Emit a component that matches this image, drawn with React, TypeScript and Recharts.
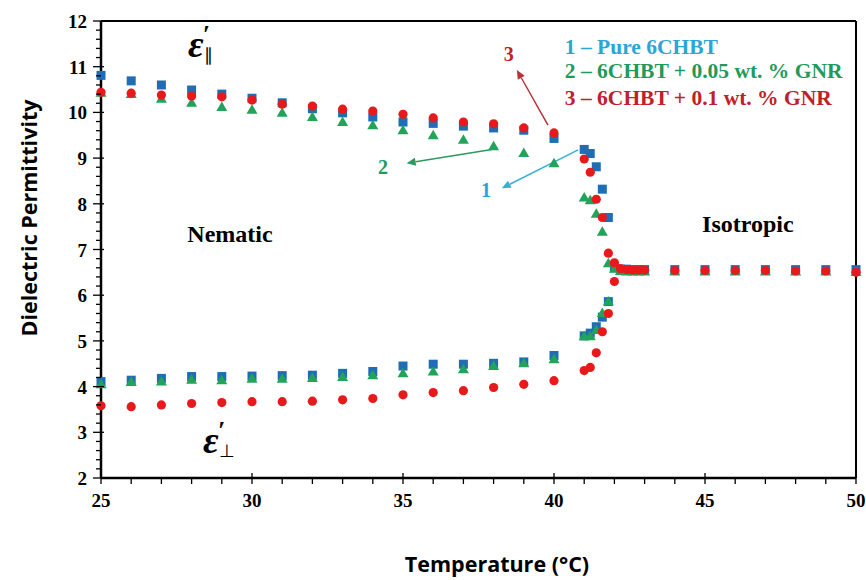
import * as React from 'react';
import { ScatterChart, Scatter, XAxis, YAxis, ReferenceLine, ReferenceDot, Label } from 'recharts';

// nematic phase, 25..40 °C
const nematicTemps = [25, 26, 27, 28, 29, 30, 31, 32, 33, 34, 35, 36, 37, 38, 39, 40];
const pureParallel = [10.81, 10.69, 10.6, 10.49, 10.4, 10.31, 10.21, 10.08, 9.99, 9.9, 9.79, 9.76, 9.7, 9.66, 9.61, 9.43];
const pureNormal = [4.11, 4.14, 4.18, 4.22, 4.22, 4.23, 4.24, 4.25, 4.29, 4.33, 4.45, 4.49, 4.49, 4.51, 4.54, 4.68];
const gnr005Parallel = [10.43, 10.4, 10.3, 10.21, 10.12, 10.06, 9.99, 9.9, 9.79, 9.72, 9.61, 9.5, 9.4, 9.26, 9.11, 8.89];
const gnr005Normal = [4.05, 4.1, 4.11, 4.15, 4.14, 4.17, 4.17, 4.19, 4.21, 4.25, 4.29, 4.33, 4.38, 4.45, 4.51, 4.6];
const gnr01Parallel = [10.44, 10.42, 10.38, 10.36, 10.34, 10.27, 10.18, 10.14, 10.07, 10.03, 9.96, 9.88, 9.79, 9.75, 9.66, 9.55];
const gnr01Normal = [3.58, 3.56, 3.6, 3.63, 3.65, 3.67, 3.67, 3.68, 3.71, 3.74, 3.82, 3.87, 3.91, 3.98, 4.05, 4.13];

// transition region
const transitionTemps = [41.0, 41.2, 41.4, 41.6, 41.8, 42.0];
const pureTransParallel = [9.19, 9.1, 8.81, 8.32, 7.7, 6.6];
const pureTransNormal = [5.11, 5.17, 5.31, 5.52, 5.86];
const gnr005TransParallel = [8.14, 8.08, 7.78, 7.39, 6.7, 6.58];
const gnr005TransNormal = [5.1, 5.1, 5.24, 5.61, 5.86];
const gnr01TransParallel = [8.98, 8.69, 8.1, 7.7, 6.92, 6.71];
const gnr01TransNormal = [4.35, 4.42, 4.74, 5.2, 5.6, 6.3];

// isotropic phase
const isoTemps = [42.2, 42.4, 42.6, 42.8, 43.0, 44, 45, 46, 47, 48, 49, 50];
const pureIso = [6.57, 6.57, 6.56, 6.56, 6.56, 6.56, 6.56, 6.56, 6.56, 6.56, 6.56, 6.56];
const gnr005Iso = [6.53, 6.52, 6.52, 6.52, 6.52, 6.52, 6.52, 6.52, 6.52, 6.52, 6.52, 6.51];
const gnr01Iso = [6.58, 6.56, 6.55, 6.55, 6.55, 6.54, 6.54, 6.54, 6.54, 6.53, 6.53, 6.5];

const xMajorTicks = [25, 30, 35, 40, 45, 50];
const yMajorTicks = [2, 3, 4, 5, 6, 7, 8, 9, 10, 11, 12];

const legendLines = ['1 – Pure 6CHBT', '2 – 6CHBT + 0.05 wt. % GNR', '3 – 6CHBT + 0.1 wt. % GNR'];

const BLUE = '#1f6db5';
const GREEN = '#22a35a';
const RED = '#e8191b';
const LEG_BLUE = '#2ba6d4';
const LEG_GREEN = '#1f9a5c';
const LEG_RED = '#c0202a';
const SERIF = '"Liberation Serif", "Times New Roman", serif';
const SANS = '"Open Sans", sans-serif';

const toPoints = (temps: number[], ...lists: number[][]) => {
    const pts: { t: number; v: number }[] = [];
    lists.forEach(list => {
        list.forEach((v, i) => pts.push({ t: temps[i], v }));
    });
    return pts;
};

const pureData = [
    ...toPoints(nematicTemps, pureParallel, pureNormal),
    ...toPoints(transitionTemps, pureTransParallel, pureTransNormal),
    ...toPoints(isoTemps, pureIso),
];
const gnr005Data = [
    ...toPoints(nematicTemps, gnr005Parallel, gnr005Normal),
    ...toPoints(transitionTemps, gnr005TransParallel, gnr005TransNormal),
    ...toPoints(isoTemps, gnr005Iso),
];
const gnr01Data = [
    ...toPoints(nematicTemps, gnr01Parallel, gnr01Normal),
    ...toPoints(transitionTemps, gnr01TransParallel, gnr01TransNormal),
    ...toPoints(isoTemps, gnr01Iso),
];

const xTicks: number[] = [];
for (let i = 25; i <= 50; i++) xTicks.push(i);
const yTicks: number[] = [];
for (let i = 0; i <= 50; i++) yTicks.push(Math.round((2 + i * 0.2) * 10) / 10);

const SquareDot = (p: any) => <rect x={p.cx - 4.5} y={p.cy - 4.5} width={9} height={9} fill={BLUE} />;
const TriangleDot = (p: any) => (
    <polygon points={`${p.cx},${p.cy - 5.5} ${p.cx + 5.5},${p.cy + 4} ${p.cx - 5.5},${p.cy + 4}`} fill={GREEN} />
);
const CircleDot = (p: any) => <circle cx={p.cx} cy={p.cy} r={4.6} fill={RED} />;

const XTick = (p: any) => {
    const v = p.payload.value;
    const major = xMajorTicks.includes(v);
    return (
        <g>
            <line x1={p.x} x2={p.x} y1={major ? p.y - 5 : p.y} y2={p.y + 6} stroke="#000" strokeWidth={1.3} />
            {major && (
                <text x={p.x} y={p.y + 29} textAnchor="middle" fontFamily={SERIF} fontWeight="bold" fontSize={19} fill="#000">
                    {v}
                </text>
            )}
        </g>
    );
};

const YTick = (p: any) => {
    const v = p.payload.value;
    const major = yMajorTicks.includes(v);
    return (
        <g>
            <line x1={major ? p.x - 8 : p.x - 5} x2={major ? p.x + 3 : p.x} y1={p.y} y2={p.y} stroke="#000" strokeWidth={1.3} />
            {major && (
                <text x={p.x - 14} y={p.y + 7} textAnchor="end" fontFamily={SERIF} fontWeight="bold" fontSize={19} fill="#000">
                    {v}
                </text>
            )}
        </g>
    );
};

const arrowShape = (color: string) => (p: any) => {
    const { x1, y1, x2, y2 } = p;
    const a = Math.atan2(y2 - y1, x2 - x1);
    const len = 9;
    const w = 4;
    const bx = x2 - len * Math.cos(a);
    const by = y2 - len * Math.sin(a);
    const px = -Math.sin(a) * w;
    const py = Math.cos(a) * w;
    return (
        <g>
            <line x1={x1} y1={y1} x2={bx} y2={by} stroke={color} strokeWidth={1.5} />
            <polygon points={`${x2},${y2} ${bx + px},${by + py} ${bx - px},${by - py}`} fill={color} />
        </g>
    );
};

const textShape = (content: React.ReactNode, opts: any) => (p: any) => (
    <text x={p.cx} y={p.cy} fontFamily={SERIF} fontWeight="bold" {...opts}>
        {content}
    </text>
);

const epsilon = (sub: string) => (p: any) => (
    <text x={p.cx} y={p.cy} fontFamily={SERIF} fontWeight="bold" fill="#000">
        <tspan fontSize={38} fontStyle="italic">ε</tspan>
        <tspan fontSize={26} fontStyle="italic" dy={-14} dx={-1}>′</tspan>
        <tspan fontSize={18} dy={18} dx={-6} fontWeight="normal">{sub}</tspan>
    </text>
);

export default function App() {
    return (
        <div style={{ position: 'absolute', left: 0, top: 0, background: '#fff' }}>
            <ScatterChart width={866} height={580} margin={{ top: 21, right: 10, bottom: 0, left: 0 }}>
                <XAxis
                    type="number"
                    dataKey="t"
                    domain={[25, 50]}
                    ticks={xTicks}
                    interval={0}
                    tick={XTick}
                    tickLine={false}
                    tickSize={0}
                    tickMargin={0}
                    height={102}
                    axisLine={{ stroke: '#000', strokeWidth: 2.5 }}
                >
                    <Label
                        content={() => (
                            <text x={497} y={572} textAnchor="middle" fontFamily={SANS} fontWeight="bold" fontSize={21.5} fill="#000">
                                Temperature (°C)
                            </text>
                        )}
                    />
                </XAxis>
                <YAxis
                    type="number"
                    dataKey="v"
                    domain={[2, 12]}
                    ticks={yTicks}
                    interval={0}
                    tick={YTick}
                    tickLine={false}
                    tickSize={0}
                    tickMargin={0}
                    width={101}
                    axisLine={{ stroke: '#000', strokeWidth: 2.5 }}
                >
                    <Label
                        content={() => (
                            <text
                                x={28}
                                y={218}
                                transform="rotate(-90 28 218)"
                                textAnchor="middle"
                                dominantBaseline="central"
                                fontFamily={SANS}
                                fontWeight="bold"
                                fontSize={21.5}
                                fill="#000"
                            >
                                Dielectric Permittivity
                            </text>
                        )}
                    />
                </YAxis>
                <ReferenceLine y={12} stroke="#000" strokeWidth={2} />
                <ReferenceLine x={50} stroke="#000" strokeWidth={2} />

                <Scatter data={pureData} shape={SquareDot} isAnimationActive={false} />
                <Scatter data={gnr005Data} shape={TriangleDot} isAnimationActive={false} />
                <Scatter data={gnr01Data} shape={CircleDot} isAnimationActive={false} />

                <ReferenceLine segment={[{ x: 39.8, y: 9.72 }, { x: 38.77, y: 10.93 }]} shape={arrowShape('#b8333a')} />
                <ReferenceLine segment={[{ x: 37.94, y: 9.19 }, { x: 35.12, y: 8.89 }]} shape={arrowShape('#2a9a60')} />
                <ReferenceLine segment={[{ x: 40.8, y: 9.18 }, { x: 38.27, y: 8.34 }]} shape={arrowShape('#3bb0d6')} />

                <ReferenceDot x={38.5} y={11.12} shape={textShape('3', { fontSize: 20, fill: LEG_RED, textAnchor: 'middle' })} />
                <ReferenceDot x={34.34} y={8.65} shape={textShape('2', { fontSize: 20, fill: LEG_GREEN, textAnchor: 'middle' })} />
                <ReferenceDot x={37.75} y={8.15} shape={textShape('1', { fontSize: 20, fill: LEG_BLUE, textAnchor: 'middle' })} />

                <ReferenceDot x={29.27} y={7.16} shape={textShape('Nematic', { fontSize: 24, fill: '#000', textAnchor: 'middle' })} />
                <ReferenceDot x={46.42} y={7.38} shape={textShape('Isotropic', { fontSize: 24, fill: '#000', textAnchor: 'middle' })} />

                <ReferenceDot x={40.36} y={11.28} shape={textShape(legendLines[0], { fontSize: 21.5, fill: LEG_BLUE })} />
                <ReferenceDot x={40.36} y={10.75} shape={textShape(legendLines[1], { fontSize: 21.5, fill: LEG_GREEN })} />
                <ReferenceDot x={40.36} y={10.17} shape={textShape(legendLines[2], { fontSize: 21.5, fill: LEG_RED })} />

                <ReferenceDot x={27.88} y={11.21} shape={epsilon('∥')} />
                <ReferenceDot x={28.38} y={2.55} shape={epsilon('⊥')} />
            </ScatterChart>
        </div>
    );
}
